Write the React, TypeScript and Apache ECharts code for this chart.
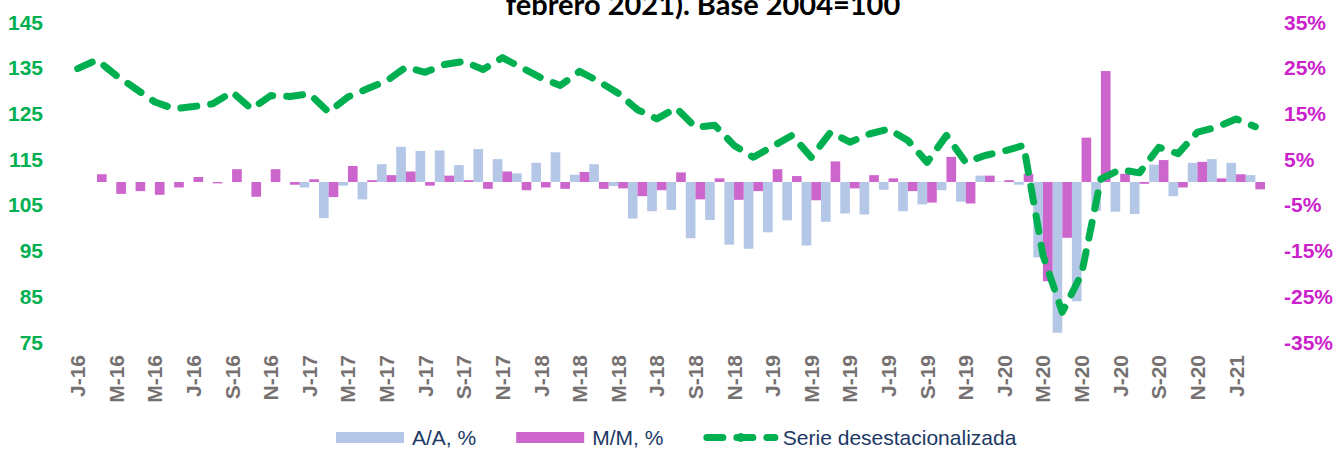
import React, { useEffect, useRef } from "react";
import * as echarts from "echarts";

const categories = [
  "J-16","F-16","M-16","A-16","M-16","J-16","J-16","A-16","S-16","O-16","N-16","D-16",
  "J-17","F-17","M-17","A-17","M-17","J-17","J-17","A-17","S-17","O-17","N-17","D-17",
  "J-18","F-18","M-18","A-18","M-18","J-18","J-18","A-18","S-18","O-18","N-18","D-18",
  "J-19","F-19","M-19","A-19","M-19","J-19","J-19","A-19","S-19","O-19","N-19","D-19",
  "J-20","F-20","M-20","A-20","M-20","J-20","J-20","A-20","S-20","O-20","N-20","D-20",
  "J-21","F-21",
];

// A/A, % (right axis)
const yoy: (number | null)[] = [
  null, null, null, null, null, null, null, null, null, null, null, null,
  -1.2, -7.9, -0.8, -3.8, 3.9, 7.7, 6.8, 6.9, 3.7, 7.2, 5.0, 1.9,
  4.2, 6.5, 1.6, 3.9, -0.9, -8.0, -6.4, -6.1, -12.3, -8.3, -13.7, -14.6,
  -11.0, -8.4, -13.9, -8.7, -6.9, -7.1, -1.7, -6.4, -4.9, -1.8, -4.3, 1.4,
  0.1, -0.6, -16.5, -33.0, -26.1, -6.3, -6.5, -7.0, 3.8, -3.1, 4.2, 5.0,
  4.2, 1.5,
];

// M/M, % (right axis)
const mom: (number | null)[] = [
  null, 1.7, -2.6, -2.0, -2.8, -1.2, 1.1, -0.3, 2.8, -3.2, 2.8, -0.6,
  0.6, -3.3, 3.5, 0.4, 1.5, 2.3, -0.8, 1.4, 0.4, -1.5, 2.3, -1.8,
  -1.2, -1.5, 2.2, -1.5, -1.4, -3.1, -1.8, 2.1, -3.8, 0.8, -3.9, -2.0,
  2.8, 1.3, -4.0, 4.5, -1.4, 1.5, 0.8, -2.0, -4.5, 5.5, -4.7, 1.4,
  0.4, 1.8, -21.7, -12.2, 9.7, 24.3, 1.8, -0.4, 4.8, -1.2, 4.4, 0.8,
  1.7, -1.6,
];

// Serie desestacionalizada (left axis, base 2004=100)
const sa: number[] = [
  134.8, 136.7, 133.3, 130.4, 127.5, 126.0, 126.5, 127.1, 129.7, 126.0, 128.9, 128.7,
  129.3, 125.3, 128.6, 130.4, 132.1, 135.1, 134.0, 135.7, 136.4, 134.6, 137.2, 135.0,
  132.8, 131.1, 134.2, 132.0, 129.4, 125.8, 123.8, 126.2, 122.0, 122.4, 118.0, 115.4,
  117.8, 120.2, 115.4, 120.9, 118.7, 120.5, 121.6, 119.1, 114.3, 120.2, 114.3, 115.8,
  116.8, 118.0, 94.0, 81.5, 89.9, 110.7, 112.7, 112.0, 117.6, 116.2, 120.9, 122.0,
  123.8, 122.1,
];

const leftTicks = { min: 75, max: 145, interval: 10 };
const rightTicks = { min: -35, max: 35, interval: 10 };

const seriesNames = ["A/A, %", "M/M, %", "Serie desestacionalizada"];
const titleText = "febrero 2021). Base 2004=100";

const GREEN = "#00B050";
const BLUE = "#B4C7E7";
const MAGENTA = "#CC66CC";
const MAGENTA_TXT = "#CC22CC";
const LINE_DASH = [16, 14];

export default function App() {
  const ref = useRef<HTMLDivElement>(null);

  useEffect(() => {
    document.body.style.margin = "0";
    if (!ref.current) return;
    const chart = echarts.init(ref.current, undefined, { renderer: "svg" });
    chart.setOption({
      animation: false,
      backgroundColor: "#ffffff",
      grid: { left: 68, right: 77, top: 22, bottom: 107, containLabel: false },
      graphic: [
        {
          type: "text",
          x: 703,
          y: 18,
          style: {
            text: titleText,
            font: "bold 29px Lato",
            fill: "#000000",
            align: "center",
            verticalAlign: "bottom",
          },
        },
      ],
      legend: {
        left: 336,
        top: 427,
        padding: 0,
        itemWidth: 68,
        itemHeight: 11,
        itemGap: 40,
        textStyle: {
          fontFamily: "Liberation Sans",
          fontSize: 21,
          lineHeight: 21,
          color: "#203864",
          padding: [0, 0, 0, 3],
        },
        data: [
          { name: seriesNames[0], icon: "rect" },
          { name: seriesNames[1], icon: "rect" },
          {
            name: seriesNames[2],
            lineStyle: { width: 7, type: LINE_DASH, cap: "round", color: GREEN },
          },
        ],
      },
      xAxis: {
        type: "category",
        data: categories,
        boundaryGap: true,
        axisLine: { show: false },
        axisTick: { show: false },
        splitLine: { show: false },
        axisLabel: {
          interval: 1,
          rotate: 90,
          margin: 13,
          fontFamily: "Liberation Sans",
          fontWeight: "bold",
          fontSize: 21,
          color: "#767171",
        },
      },
      yAxis: [
        {
          type: "value",
          position: "left",
          min: leftTicks.min,
          max: leftTicks.max,
          interval: leftTicks.interval,
          axisLine: { show: false },
          axisTick: { show: false },
          splitLine: { show: false },
          axisLabel: {
            margin: 25,
            fontFamily: "Liberation Sans",
            fontWeight: "bold",
            fontSize: 21,
            color: GREEN,
          },
        },
        {
          type: "value",
          position: "right",
          min: rightTicks.min,
          max: rightTicks.max,
          interval: rightTicks.interval,
          axisLine: { show: false },
          axisTick: { show: false },
          splitLine: { show: false },
          axisLabel: {
            margin: 19,
            formatter: "{value}%",
            fontFamily: "Liberation Sans",
            fontWeight: "bold",
            fontSize: 21,
            color: MAGENTA_TXT,
          },
        },
      ],
      series: [
        {
          name: seriesNames[0],
          type: "bar",
          yAxisIndex: 1,
          data: yoy,
          barGap: "0%",
          barCategoryGap: "0%",
          itemStyle: { color: BLUE },
          z: 2,
        },
        {
          name: seriesNames[1],
          type: "bar",
          yAxisIndex: 1,
          data: mom,
          barGap: "0%",
          barCategoryGap: "0%",
          itemStyle: { color: MAGENTA },
          z: 2,
        },
        {
          name: seriesNames[2],
          type: "line",
          yAxisIndex: 0,
          data: sa,
          symbol: "none",
          showSymbol: false,
          smooth: false,
          itemStyle: { color: GREEN },
          lineStyle: { color: GREEN, width: 7, type: LINE_DASH, cap: "round", join: "round" },
          z: 5,
        },
      ],
    });
    return () => chart.dispose();
  }, []);

  return (
    <div
      ref={ref}
      style={{ position: "fixed", left: 0, top: 0, width: 1342, height: 449, background: "#fff" }}
    />
  );
}
